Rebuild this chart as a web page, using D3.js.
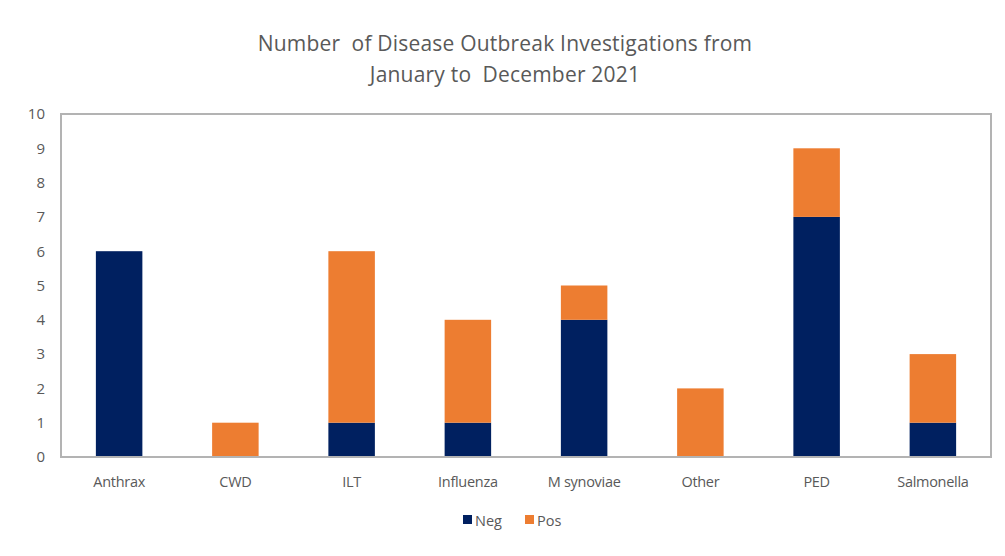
<!DOCTYPE html>
<html>
<head>
<meta charset="utf-8">
<script src="https://cdn.jsdelivr.net/npm/d3@7"></script>
<style>
  body { margin: 0; background: #fff; }
  text { font-family: "Open Sans", "Liberation Sans", sans-serif; fill: #595959; }
</style>
</head>
<body>
<div id="wrapper"></div>
<script>
const categories = ["Anthrax", "CWD", "ILT", "Influenza", "M synoviae", "Other", "PED", "Salmonella"];
const negValues = [6, 0, 1, 1, 4, 0, 7, 1];
const posValues = [0, 1, 5, 3, 1, 2, 2, 2];
const seriesNames = ["Neg", "Pos"];
const seriesColors = ["#002060", "#ED7D31"];
const yTicks = [0, 1, 2, 3, 4, 5, 6, 7, 8, 9, 10];
const titleLines = ["Number  of Disease Outbreak Investigations from", "January to  December 2021"];

function drawChart() {
    let dimensions = {
        width: 1005,
        height: 556,
        margin: { top: 114, right: 14, bottom: 99, left: 61 },
    };
    dimensions.boundedWidth = dimensions.width - dimensions.margin.left - dimensions.margin.right;
    dimensions.boundedHeight = dimensions.height - dimensions.margin.top - dimensions.margin.bottom;

    const svg = d3.select("#wrapper").append("svg")
        .attr("width", dimensions.width)
        .attr("height", dimensions.height);

    // title
    svg.append("g").selectAll("text")
        .data(titleLines)
        .join("text")
        .attr("x", 505)
        .attr("y", (d, i) => 51 + i * 31)
        .attr("text-anchor", "middle")
        .style("white-space", "pre")
        .style("font-size", "21px")
        .style("letter-spacing", "0.2px")
        .text(d => d);

    const bounds = svg.append("g")
        .attr("transform", `translate(${dimensions.margin.left},${dimensions.margin.top})`);

    const table = categories.map((c, i) => ({ category: c, Neg: negValues[i], Pos: posValues[i] }));
    const stacked = d3.stack().keys(seriesNames)(table);

    const xScale = d3.scaleBand()
        .domain(categories)
        .range([0, dimensions.boundedWidth])
        .paddingInner(0.6)
        .paddingOuter(0.3);

    const yScale = d3.scaleLinear()
        .domain([0, 10])
        .range([dimensions.boundedHeight, 0]);

    // bars
    bounds.selectAll("g.series")
        .data(stacked)
        .join("g")
        .attr("class", "series")
        .attr("fill", (d, i) => seriesColors[i])
        .selectAll("rect")
        .data(d => d)
        .join("rect")
        .attr("x", d => xScale(d.data.category))
        .attr("width", xScale.bandwidth())
        .attr("y", d => yScale(d[1]))
        .attr("height", d => yScale(d[0]) - yScale(d[1]));

    // plot border
    bounds.append("rect")
        .attr("x", 0)
        .attr("y", 0)
        .attr("width", dimensions.boundedWidth)
        .attr("height", dimensions.boundedHeight)
        .attr("fill", "none")
        .attr("stroke", "#b3b3b3")
        .attr("stroke-width", 2);

    // y axis
    const yAxis = bounds.append("g")
        .call(d3.axisLeft(yScale).tickValues(yTicks).tickSize(0).tickPadding(16));
    yAxis.select(".domain").remove();
    yAxis.selectAll("text").style("font-size", "15px");

    // x axis
    const xAxis = bounds.append("g")
        .attr("transform", `translate(0,${dimensions.boundedHeight})`)
        .call(d3.axisBottom(xScale).tickSize(0).tickPadding(20));
    xAxis.select(".domain").remove();
    xAxis.selectAll("text").style("font-size", "14.5px").style("letter-spacing", "-0.3px");

    // legend
    const legend = svg.append("g").attr("transform", "translate(463,526)");
    const legendX = [0, 62];
    const items = legend.selectAll("g")
        .data(seriesNames)
        .join("g")
        .attr("transform", (d, i) => `translate(${legendX[i]},0)`);
    items.append("rect")
        .attr("x", 0)
        .attr("y", -11)
        .attr("width", 9)
        .attr("height", 9)
        .attr("fill", (d, i) => seriesColors[i]);
    items.append("text")
        .attr("x", 12)
        .attr("y", 0)
        .style("font-size", "14.5px")
        .text(d => d);
}

drawChart();
</script>
</body>
</html>
